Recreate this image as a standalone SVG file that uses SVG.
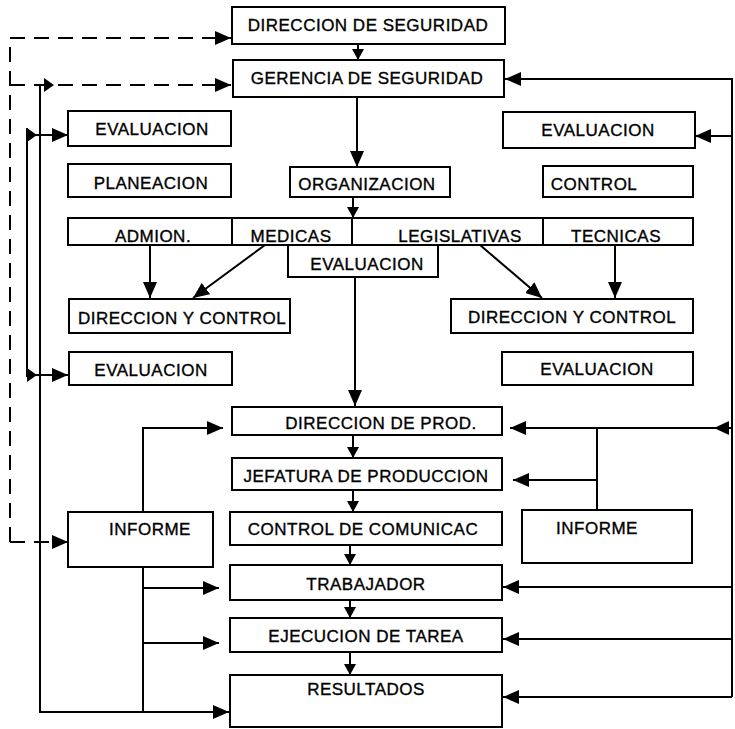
<svg xmlns="http://www.w3.org/2000/svg" width="735" height="729" viewBox="0 0 735 729">
<style>
.box{fill:none;stroke:#000;stroke-width:2}
.lbl{font-family:"Liberation Sans",Arial,sans-serif;font-size:17px;fill:#000;stroke:#000;stroke-width:0.35px;text-anchor:middle;letter-spacing:0.5px}
.ln{fill:none;stroke:#000;stroke-width:2}
.dash{stroke-dasharray:15 9}
.big{marker-end:url(#ab)}
.sm{marker-end:url(#as)}
</style>
<defs>
<marker id="ab" markerWidth="16" markerHeight="14" refX="16" refY="7" orient="auto" markerUnits="userSpaceOnUse"><path d="M0,0 L16,7 L0,14 Z" fill="#000"/></marker>
<marker id="as" markerWidth="11" markerHeight="12" refX="11" refY="6" orient="auto" markerUnits="userSpaceOnUse"><path d="M0,0 L11,6 L0,12 Z" fill="#000"/></marker>
<path id="tri" d="M0,-7 L10,0 L0,7 Z" fill="#000"/>
</defs>
<rect width="735" height="729" fill="#fff"/>
<g id="connectors">
<path class="ln sm" d="M358,44 V60"/>
<path class="ln big" d="M357,97 V167"/>
<path class="ln sm" d="M353,197 V218"/>
<path class="ln big" d="M355,277 V406"/>
<path class="ln sm" d="M353,435 V458"/>
<path class="ln sm" d="M353,490 V512"/>
<path class="ln sm" d="M350,545 V565"/>
<path class="ln sm" d="M350,600 V618"/>
<path class="ln sm" d="M350,652 V675"/>
<path class="ln big" d="M150,245 V298"/>
<path class="ln big" d="M265,245 L193,298"/>
<path class="ln big" d="M480,245 L542,298"/>
<path class="ln big" d="M615,245 V298"/>
<path class="ln dash big" d="M10,542 V38 H231"/>
<path class="ln dash big" d="M10,542 H68"/>
<path class="ln dash big" d="M10,85 H231"/>
<path class="ln big" d="M40,85 V712 H229"/>
<use href="#tri" x="44" y="85"/>
<path class="ln" d="M27,128 V377"/>
<path class="ln big" d="M27,135 H68"/>
<path class="ln big" d="M27,375 H68"/>
<use href="#tri" x="27" y="135"/>
<use href="#tri" x="27" y="375"/>
<path class="ln big" d="M143,512 V428 H223"/>
<path class="ln" d="M143,567 V712"/>
<path class="ln big" d="M143,588 H219"/>
<path class="ln big" d="M143,643 H219"/>
<path class="ln big" d="M732,697 V79 H505"/>
<path class="ln big" d="M732,136 H695"/>
<path class="ln big" d="M732,428 H510"/>
<path d="M729,421 L714,428 L729,435 Z" fill="#000"/>
<path class="ln" d="M597,510 V428"/>
<path class="ln big" d="M597,480 H513"/>
<path class="ln big" d="M732,587 H503"/>
<path class="ln big" d="M732,639 H503"/>
<path class="ln big" d="M732,697 H503"/>
</g>
<g id="n1"><rect class="box" x="232" y="7" width="273" height="37"/><text class="lbl" x="368" y="31">DIRECCION DE SEGURIDAD</text></g>
<g id="n2"><rect class="box" x="233" y="60" width="271" height="37"/><text class="lbl" x="367" y="84">GERENCIA DE SEGURIDAD</text></g>
<g id="n3"><rect class="box" x="68" y="111" width="163" height="35"/><text class="lbl" x="152" y="135">EVALUACION</text></g>
<g id="n4"><rect class="box" x="503" y="112" width="192" height="36"/><text class="lbl" x="598" y="136">EVALUACION</text></g>
<g id="n5"><rect class="box" x="68" y="164" width="163" height="33"/><text class="lbl" x="151" y="189">PLANEACION</text></g>
<g id="n6"><rect class="box" x="290" y="167" width="160" height="30"/><text class="lbl" x="367" y="190">ORGANIZACION</text></g>
<g id="n7"><rect class="box" x="543" y="166" width="150" height="31"/><text class="lbl" x="594" y="190">CONTROL</text></g>
<g id="n8"><rect class="box" x="68" y="218" width="164" height="27"/><text class="lbl" x="153" y="242">ADMION.</text></g>
<g id="n9"><rect class="box" x="232" y="218" width="120" height="27"/><text class="lbl" x="291" y="242">MEDICAS</text></g>
<g id="n10"><rect class="box" x="352" y="218" width="191" height="27"/><text class="lbl" x="460" y="242">LEGISLATIVAS</text></g>
<g id="n11"><rect class="box" x="543" y="218" width="150" height="27"/><text class="lbl" x="616" y="242">TECNICAS</text></g>
<g id="n12"><rect class="box" x="288" y="245" width="150" height="32"/><text class="lbl" x="367" y="270">EVALUACION</text></g>
<g id="n13"><rect class="box" x="69" y="299" width="221" height="34"/><text class="lbl" x="182" y="324">DIRECCION Y CONTROL</text></g>
<g id="n14"><rect class="box" x="451" y="299" width="242" height="34"/><text class="lbl" x="572" y="323">DIRECCION Y CONTROL</text></g>
<g id="n15"><rect class="box" x="69" y="352" width="163" height="33"/><text class="lbl" x="151" y="376">EVALUACION</text></g>
<g id="n16"><rect class="box" x="502" y="352" width="191" height="33"/><text class="lbl" x="597" y="375">EVALUACION</text></g>
<g id="n17"><rect class="box" x="232" y="407" width="270" height="28"/><text class="lbl" x="381" y="429">DIRECCION DE PROD.</text></g>
<g id="n18"><rect class="box" x="232" y="458" width="270" height="32"/><text class="lbl" x="366" y="482">JEFATURA DE PRODUCCION</text></g>
<g id="n19"><rect class="box" x="230" y="512" width="272" height="33"/><text class="lbl" x="363" y="535">CONTROL DE COMUNICAC</text></g>
<g id="n20"><rect class="box" x="230" y="565" width="272" height="35"/><text class="lbl" x="366" y="590">TRABAJADOR</text></g>
<g id="n21"><rect class="box" x="230" y="618" width="272" height="34"/><text class="lbl" x="366" y="642">EJECUCION DE TAREA</text></g>
<g id="n22"><rect class="box" x="230" y="675" width="272" height="52"/><text class="lbl" x="366" y="695">RESULTADOS</text></g>
<g id="n23"><rect class="box" x="68" y="512" width="145" height="55"/><text class="lbl" x="150" y="535">INFORME</text></g>
<g id="n24"><rect class="box" x="522" y="510" width="170" height="53"/><text class="lbl" x="597" y="534">INFORME</text></g>
</svg>
